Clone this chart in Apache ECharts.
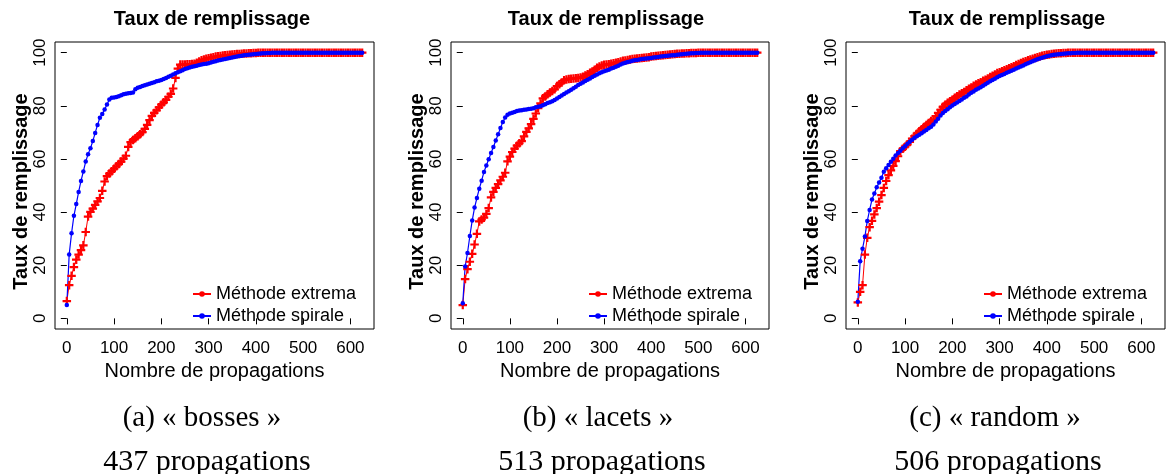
<!DOCTYPE html>
<html><head><meta charset="utf-8">
<script src="https://cdn.jsdelivr.net/npm/echarts@6/dist/echarts.min.js"></script>
<style>html,body{margin:0;padding:0;background:#fff}#c{width:1170px;height:474px}</style>
</head><body><div id="c"></div>
<script>
// x positions (number of propagations) at which the curves were read
const propagations = [
  0,5,10,15,20,25,30,35,40,45,
  50,55,60,65,70,75,80,85,90,95,
  100,105,110,115,120,125,130,135,140,145,
  150,155,160,165,170,175,180,185,190,195,
  200,205,210,215,220,225,230,235,240,245,
  250,255,260,265,270,275,280,285,290,295,
  300,305,310,315,320,325,330,335,340,345,
  350,355,360,365,370,375,380,385,390,395,
  400,405,410,415,420,425,430,435,440,445,
  450,455,460,465,470,475,480,485,490,495,
  500,505,510,515,520,525,530,535,540,545,
  550,555,560,565,570,575,580,585,590,595,
  600,605,610,615,620,625
];
// (a) bosses
const extremaBosses = [
  6.5,12.5,16.0,19.3,22.1,24.0,25.7,27.5,32.5,38.3,
  40.1,41.3,42.7,44.0,45.3,48.0,51.5,53.5,54.5,55.4,
  56.3,57.2,58.1,59.0,60.1,61.2,64.5,66.3,67.1,67.8,
  68.5,69.3,70.1,71.3,72.8,74.6,76.2,77.3,78.3,79.4,
  80.4,81.3,82.2,83.4,84.5,86.5,90.5,94.0,95.5,95.5,
  95.5,95.6,95.6,95.7,95.8,96.2,96.7,97.1,97.4,97.7,
  97.9,98.1,98.3,98.5,98.6,98.7,98.9,99.0,99.1,99.2,
  99.3,99.4,99.5,99.5,99.6,99.7,99.7,99.8,99.8,99.9,
  99.9,100,100,100,100,100,100,100,100,100,
  100,100,100,100,100,100,100,100,100,100,
  100,100,100,100,100,100,100,100,100,100,
  100,100,100,100,100,100,100,100,100,100,
  100,100,100,100,100,100
];
const spiraleBosses = [
  5.0,24.0,32.0,38.6,43.0,47.6,51.7,55.3,59.0,61.8,
  64.0,66.7,69.8,72.8,75.5,76.9,78.6,80.5,82.4,83.0,
  83.1,83.3,83.6,84.0,84.3,84.5,84.7,84.8,85.0,86.2,
  86.8,87.1,87.4,87.7,88.0,88.3,88.6,88.9,89.2,89.4,
  89.7,90.1,90.5,90.9,91.3,91.8,92.2,92.6,93.0,93.4,
  93.8,94.1,94.4,94.7,94.9,95.1,95.3,95.5,95.7,95.8,
  96.0,96.3,96.6,96.8,97.0,97.2,97.4,97.6,97.8,98.0,
  98.2,98.4,98.5,98.7,98.8,99.0,99.1,99.2,99.3,99.4,
  99.5,99.6,99.7,99.8,99.8,99.9,99.9,100,100,100,
  100,100,100,100,100,100,100,100,100,100,
  100,100,100,100,100,100,100,100,100,100,
  100,100,100,100,100,100,100,100,100,100,
  100,100,100,100,100,100
];
// (b) lacets
const extremaLacets = [
  5.0,14.8,18.5,21.3,24.3,27.8,31.8,36.5,37.2,37.9,
  39.3,41.5,45.5,47.6,49.1,50.5,51.9,53.3,54.8,59.1,
  60.9,62.6,63.9,65.0,65.9,66.7,68.5,70.2,71.5,73.1,
  75.1,77.1,79.1,80.9,82.8,83.5,84.3,85.0,85.6,86.2,
  87.4,88.1,88.8,89.6,89.9,90.1,90.2,90.3,90.4,90.5,
  90.6,90.9,91.4,91.9,92.4,92.9,93.6,94.3,94.8,95.2,
  95.4,95.5,95.6,95.8,96.0,96.2,96.4,96.7,96.9,97.0,
  97.2,97.4,97.6,97.7,97.8,97.9,98.0,98.1,98.2,98.3,
  98.5,98.6,98.7,98.8,98.9,99.0,99.1,99.2,99.3,99.4,
  99.5,99.6,99.6,99.7,99.7,99.8,99.8,99.9,99.9,99.9,
  100,100,100,100,100,100,100,100,100,100,
  100,100,100,100,100,100,100,100,100,100,
  100,100,100,100,100,100
];
const spiraleLacets = [
  5.7,19.5,24.6,31.0,36.8,41.7,45.3,48.8,51.8,55.1,
  57.5,59.9,62.2,64.5,66.9,69.3,71.6,73.9,75.6,76.6,
  77.1,77.4,77.7,78.0,78.2,78.3,78.5,78.6,78.8,78.9,
  79.1,79.4,79.6,79.8,80.2,80.6,81.0,81.3,81.7,82.2,
  82.7,83.3,83.9,84.4,85.0,85.5,86.0,86.6,87.2,87.8,
  88.3,88.8,89.3,89.8,90.3,90.8,91.3,91.8,92.2,92.6,
  93.0,93.3,93.6,94.0,94.3,94.7,95.1,95.5,95.9,96.2,
  96.5,96.7,96.9,97.1,97.2,97.4,97.6,97.7,97.8,97.9,
  98.0,98.2,98.3,98.4,98.5,98.6,98.7,98.8,98.9,99.0,
  99.0,99.2,99.3,99.4,99.5,99.6,99.7,99.8,99.8,99.9,
  99.9,100,100,100,100,100,100,100,100,100,
  100,100,100,100,100,100,100,100,100,100,
  100,100,100,100,100,100
];
// (c) random
const extremaRandom = [
  6.0,10.0,12.5,24.0,30.3,34.3,36.7,39.1,41.5,43.9,
  46.4,49.1,51.7,53.9,55.7,57.4,59.2,61.0,62.9,63.8,
  64.6,65.5,66.4,67.6,68.6,69.5,70.4,71.2,72.0,72.8,
  73.5,74.3,74.9,76.1,77.3,78.5,79.6,80.4,81.1,81.7,
  82.3,83.0,83.6,84.2,84.7,85.2,85.8,86.4,86.9,87.5,
  88.0,88.5,88.9,89.4,89.8,90.3,90.8,91.3,91.8,92.3,
  92.6,93.0,93.4,93.7,94.1,94.5,94.9,95.3,95.7,96.1,
  96.5,96.8,97.1,97.4,97.7,98.0,98.3,98.5,98.8,99.0,
  99.2,99.3,99.5,99.6,99.7,99.8,99.8,99.9,99.9,100,
  100,100,100,100,100,100,100,100,100,100,
  100,100,100,100,100,100,100,100,100,100,
  100,100,100,100,100,100,100,100,100,100,
  100,100,100,100,100,100
];
const spiraleRandom = [
  6.3,21.5,26.2,30.8,36.6,40.8,44.7,47.0,49.3,51.1,
  52.9,55.2,56.5,57.7,58.9,60.1,61.3,62.2,63.1,64.0,
  64.8,65.7,66.5,67.2,68.0,68.5,69.1,69.7,70.3,70.9,
  71.5,72.1,73.0,74.1,75.1,76.3,77.3,78.0,78.7,79.4,
  80.1,80.7,81.2,81.8,82.4,83.0,83.5,84.2,84.9,85.4,
  86.0,86.5,87.0,87.5,88.1,88.7,89.2,89.7,90.2,90.7,
  91.2,91.6,92.0,92.4,92.8,93.2,93.6,94.0,94.4,94.8,
  95.2,95.6,96.0,96.4,96.8,97.1,97.5,97.8,98.1,98.4,
  98.6,98.8,99.0,99.2,99.3,99.4,99.5,99.6,99.7,99.8,
  99.8,99.9,99.9,100,100,100,100,100,100,100,
  100,100,100,100,100,100,100,100,100,100,
  100,100,100,100,100,100,100,100,100,100,
  100,100,100,100,100,100
];
const xTicks = [0, 100, 200, 300, 400, 500, 600];
const yTicks = [0, 20, 40, 60, 80, 100];
const panelTitle = 'Taux de remplissage';
const xAxisName = 'Nombre de propagations';
const yAxisName = 'Taux de remplissage';
const legendNames = ['Méthode extrema', 'Méthode spirale'];
const captions = ['(a) « bosses »', '(b) « lacets »', '(c) « random »'];
const counts = ['437 propagations', '513 propagations', '506 propagations'];

const RED = '#ff0000', BLUE = '#0000ff';
const SANS = '"Liberation Sans", Arial, Helvetica, sans-serif';
const SERIF = '"Liberation Serif", "Times New Roman", serif';
const PLUS = 'path://M3.7,0H6.3V3.7H10V6.3H6.3V10H3.7V6.3H0V3.7H3.7Z';

const panels = [
  {left: 55, width: 319, titleX: 212, legendLeft: 192, capX: 202, cntX: 207, red: extremaBosses, blue: spiraleBosses},
  {left: 451, width: 318, titleX: 606, legendLeft: 588, capX: 598, cntX: 602, red: extremaLacets, blue: spiraleLacets},
  {left: 846, width: 319, titleX: 1007, legendLeft: 983, capX: 995, cntX: 998, red: extremaRandom, blue: spiraleRandom}
];
const TOP = 42, HEIGHT = 287;

function pairs(ys) { return propagations.map((x, i) => [x, ys[i]]); }

const grid = [], xAxis = [], yAxis = [], title = [], legend = [], graphic = [];
const series = [
  // legend-only entries (drawn as line + dot, as in the original legend)
  {type: 'line', name: legendNames[0], data: [], xAxisIndex: 0, yAxisIndex: 0, color: RED,
   symbol: 'circle', lineStyle: {width: 2}},
  {type: 'line', name: legendNames[1], data: [], xAxisIndex: 0, yAxisIndex: 0, color: BLUE,
   symbol: 'circle', lineStyle: {width: 2}}
];

panels.forEach((p, i) => {
  grid.push({left: p.left, top: TOP, width: p.width, height: HEIGHT, show: true,
    borderColor: '#000', borderWidth: 1, backgroundColor: 'transparent'});
  xAxis.push({type: 'value', gridIndex: i, min: -25, max: 650,
    axisLine: {show: false}, splitLine: {show: false},
    axisTick: {show: true, length: 6, customValues: xTicks, lineStyle: {color: '#000', width: 1}},
    axisLabel: {customValues: xTicks, fontSize: 17, color: '#000', fontFamily: SANS, margin: 11},
    name: xAxisName, nameLocation: 'middle', nameGap: 28,
    nameTextStyle: {fontSize: 20, color: '#000', fontFamily: SANS}});
  yAxis.push({type: 'value', gridIndex: i, min: -4, max: 104,
    axisLine: {show: false}, splitLine: {show: false},
    axisTick: {show: true, length: 6, customValues: yTicks, lineStyle: {color: '#000', width: 1}},
    axisLabel: {customValues: yTicks, rotate: 90, fontSize: 17, color: '#000', fontFamily: SANS, margin: 6},
    name: yAxisName, nameLocation: 'middle', nameGap: 24,
    nameTextStyle: {fontSize: 20, fontWeight: 'bold', color: '#000', fontFamily: SANS, padding: [0, 12, 0, 0]}});
  title.push({text: panelTitle, left: p.titleX, textAlign: 'center', top: 9, padding: 0,
    textStyle: {fontSize: 20, fontWeight: 'bold', color: '#000', fontFamily: SANS}});
  legend.push({data: legendNames, orient: 'vertical', left: p.legendLeft, top: 285,
    itemWidth: 18, itemHeight: 7, itemGap: 4, padding: 0, selectedMode: false,
    textStyle: {fontSize: 18, lineHeight: 18, color: '#000', fontFamily: SANS}});
  series.push({type: 'line', name: legendNames[0], xAxisIndex: i, yAxisIndex: i,
    data: pairs(p.red), color: RED, symbol: PLUS, symbolSize: 8.5,
    lineStyle: {width: 1, color: RED}, itemStyle: {color: RED}});
  series.push({type: 'line', name: legendNames[1], xAxisIndex: i, yAxisIndex: i,
    data: pairs(p.blue), color: BLUE, symbol: 'circle', symbolSize: 4.5,
    lineStyle: {width: 1.2, color: BLUE}, itemStyle: {color: BLUE}});
  graphic.push({type: 'text', x: p.capX, y: 418, silent: true,
    style: {text: captions[i], fill: '#000', font: '29px ' + SERIF,
      align: 'center', textAlign: 'center', verticalAlign: 'middle', textVerticalAlign: 'middle'}});
  graphic.push({type: 'text', x: p.cntX, y: 462, silent: true,
    style: {text: counts[i], fill: '#000', font: '30px ' + SERIF,
      align: 'center', textAlign: 'center', verticalAlign: 'middle', textVerticalAlign: 'middle'}});
});

const chart = echarts.init(document.getElementById('c'), null, {renderer: 'canvas'});
chart.setOption({
  animation: false,
  backgroundColor: '#fff',
  title, grid, xAxis, yAxis, legend, series, graphic,
  tooltip: {show: false}
});
</script>
</body></html>
